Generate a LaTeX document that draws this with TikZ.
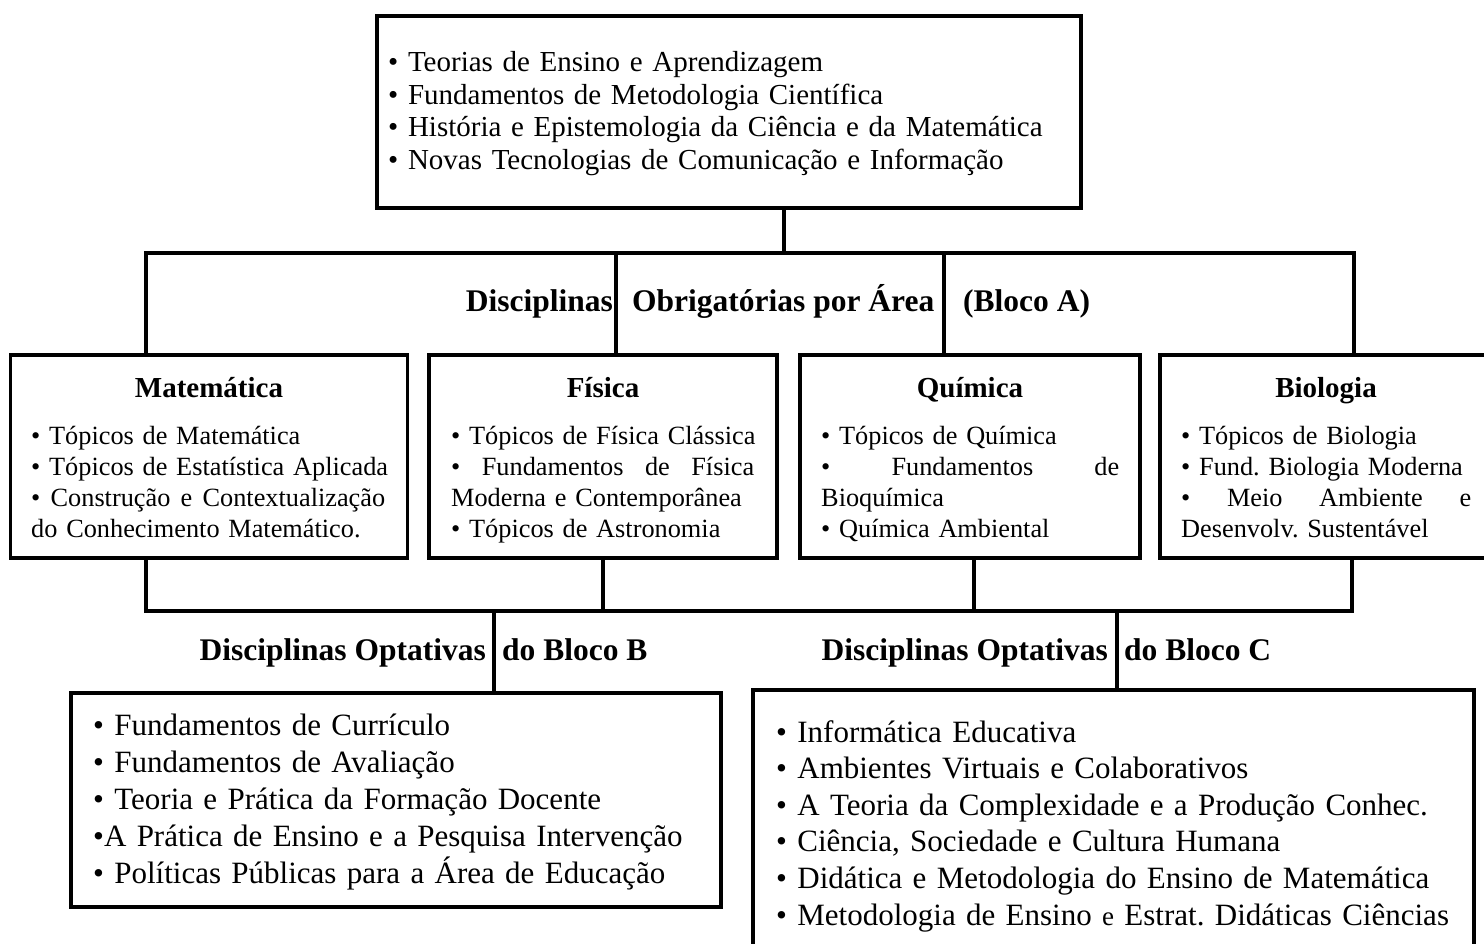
\documentclass[tikz,border=0pt]{standalone}
\usepackage{fontspec}
\setmainfont{Liberation Serif}
\frenchspacing
\begin{document}
\begin{tikzpicture}[x=1pt,y=-1pt,
  box/.style={draw, line width=3.5pt, inner sep=0pt},
  conn/.style={line width=3.5pt},
  txt/.style={anchor=base west, inner sep=0pt, align=left},
  toptext/.style={txt, font=\fontsize{29}{32.5}\selectfont\frenchspacing},
  areatext/.style={txt, font=\fontsize{26.3}{31}\selectfont\frenchspacing},
  bottext/.style={txt, font=\fontsize{31}{37}\selectfont\frenchspacing},
  areatitle/.style={anchor=base, inner sep=0pt, font=\bfseries\fontsize{29}{34}\selectfont},
  label/.style={inner sep=0pt, font=\bfseries\fontsize{31.5}{36}\selectfont}]
\useasboundingbox (0,0) rectangle (1484,944);
\clip (0,0) rectangle (1484,944);
% top box
\node[box, minimum width=704, minimum height=192] (top) at (729,112) {};
\node[toptext, text width=690] (toptxt) at (388,72) {\mbox{• Teorias de Ensino e Aprendizagem}\\ \mbox{• Fundamentos de Metodologia Científica}\\ \mbox{• História e Epistemologia da Ciência e da Matemática}\\ \mbox{• Novas Tecnologias de Comunicação e Informação}};
% area boxes
\node[box, minimum width=397, minimum height=203] (mat) at (209,456.5) {};
\node[box, minimum width=348, minimum height=203] (fis) at (603,456.5) {};
\node[box, minimum width=340, minimum height=203] (qui) at (970,456.5) {};
\node[box, minimum width=332, minimum height=203] (bio) at (1326,456.5) {};
\node[areatitle] (matT) at (209,397) {Matemática};
\node[areatitle] (fisT) at (603,397) {Física};
\node[areatitle] (quiT) at (970,397) {Química};
\node[areatitle] (bioT) at (1326,397) {Biologia};
\node[areatext, text width=354] (matI) at (31,444) {\mbox{• Tópicos de Matemática}\\ \mbox{• Tópicos de Estatística Aplicada}\\ •\hfill Construção\hfill e\hfill Contextualização\\ \mbox{do Conhecimento Matemático.}};
\node[areatext, text width=303] (fisI) at (451,444) {\mbox{• Tópicos de Física Clássica}\\ •\hfill Fundamentos\hfill de\hfill Física\\ \mbox{Moderna e Contemporânea}\\ \mbox{• Tópicos de Astronomia}};
\node[areatext, text width=298] (quiI) at (821,444) {\mbox{• Tópicos de Química}\\ •\hfill Fundamentos\hfill de\\ \mbox{Bioquímica}\\ \mbox{• Química Ambiental}};
\node[areatext, text width=290] (bioI) at (1181,444) {\mbox{• Tópicos de Biologia}\\ \mbox{• Fund. Biologia Moderna}\\ •\hfill Meio\hfill Ambiente\hfill e\\ \mbox{Desenvolv. Sustentável}};
% label A
\node[label, anchor=base east] (lA1) at (613,312) {Disciplinas};
\node[label, anchor=base west] (lA2) at (632,312) {Obrigatórias por Área};
\node[label, anchor=base west] (lA3) at (963,312) {(Bloco A)};
% bus A
\coordinate (tA) at (784,253);
\coordinate (aL) at (146,253);
\coordinate (aF) at (616,253);
\coordinate (aQ) at (944,253);
\coordinate (aR) at (1354,253);
\draw[conn] (tA |- top.south) -- (tA);
\draw[conn] (aL |- mat.north) -- (aL) -- (aR) -- (aR |- bio.north);
\draw[conn] (aF) -- (aF |- fis.north);
\draw[conn] (aQ) -- (aQ |- qui.north);
% bottom boxes
\node[box, minimum width=650, minimum height=214] (boxB) at (396,800) {};
\node[box, minimum width=721, minimum height=270] (boxC) at (1113.5,825) {};
\node[bottext, text width=620] (bI) at (93,735) {\mbox{• Fundamentos de Currículo}\\ \mbox{• Fundamentos de Avaliação}\\ \mbox{• Teoria e Prática da Formação Docente}\\ \mbox{•A Prática de Ensino e a Pesquisa Intervenção}\\ \mbox{• Políticas Públicas para a Área de Educação}};
\node[bottext, text width=690, font=\fontsize{31}{36.6}\selectfont] (cI) at (776,742) {\mbox{• Informática Educativa}\\ \mbox{• Ambientes Virtuais e Colaborativos}\\ \mbox{• A Teoria da Complexidade e a Produção Conhec.}\\ \mbox{• Ciência, Sociedade e Cultura Humana}\\ \mbox{• Didática e Metodologia do Ensino de Matemática}\\ \mbox{• Metodologia de Ensino {\fontsize{27}{30}\selectfont e} Estrat. Didáticas Ciências}};
% labels B, C
\node[label, anchor=base east] (lB1) at (486,660) {Disciplinas Optativas};
\node[label, anchor=base west] (lB2) at (502,660) {do Bloco B};
\node[label, anchor=base east] (lC1) at (1108,660) {Disciplinas Optativas};
\node[label, anchor=base west] (lC2) at (1124,660) {do Bloco C};
% bus B/C
\coordinate (bL) at (146,611);
\coordinate (bF) at (603,611);
\coordinate (bQ) at (974,611);
\coordinate (bR) at (1352,611);
\coordinate (bB) at (494,611);
\coordinate (bC) at (1117,611);
\draw[conn] (bL |- mat.south) -- (bL) -- (bR) -- (bR |- bio.south);
\draw[conn] (bF |- fis.south) -- (bF);
\draw[conn] (bQ |- qui.south) -- (bQ);
\draw[conn] (bB) -- (bB |- boxB.north);
\draw[conn] (bC) -- (bC |- boxC.north);
\end{tikzpicture}
\end{document}
